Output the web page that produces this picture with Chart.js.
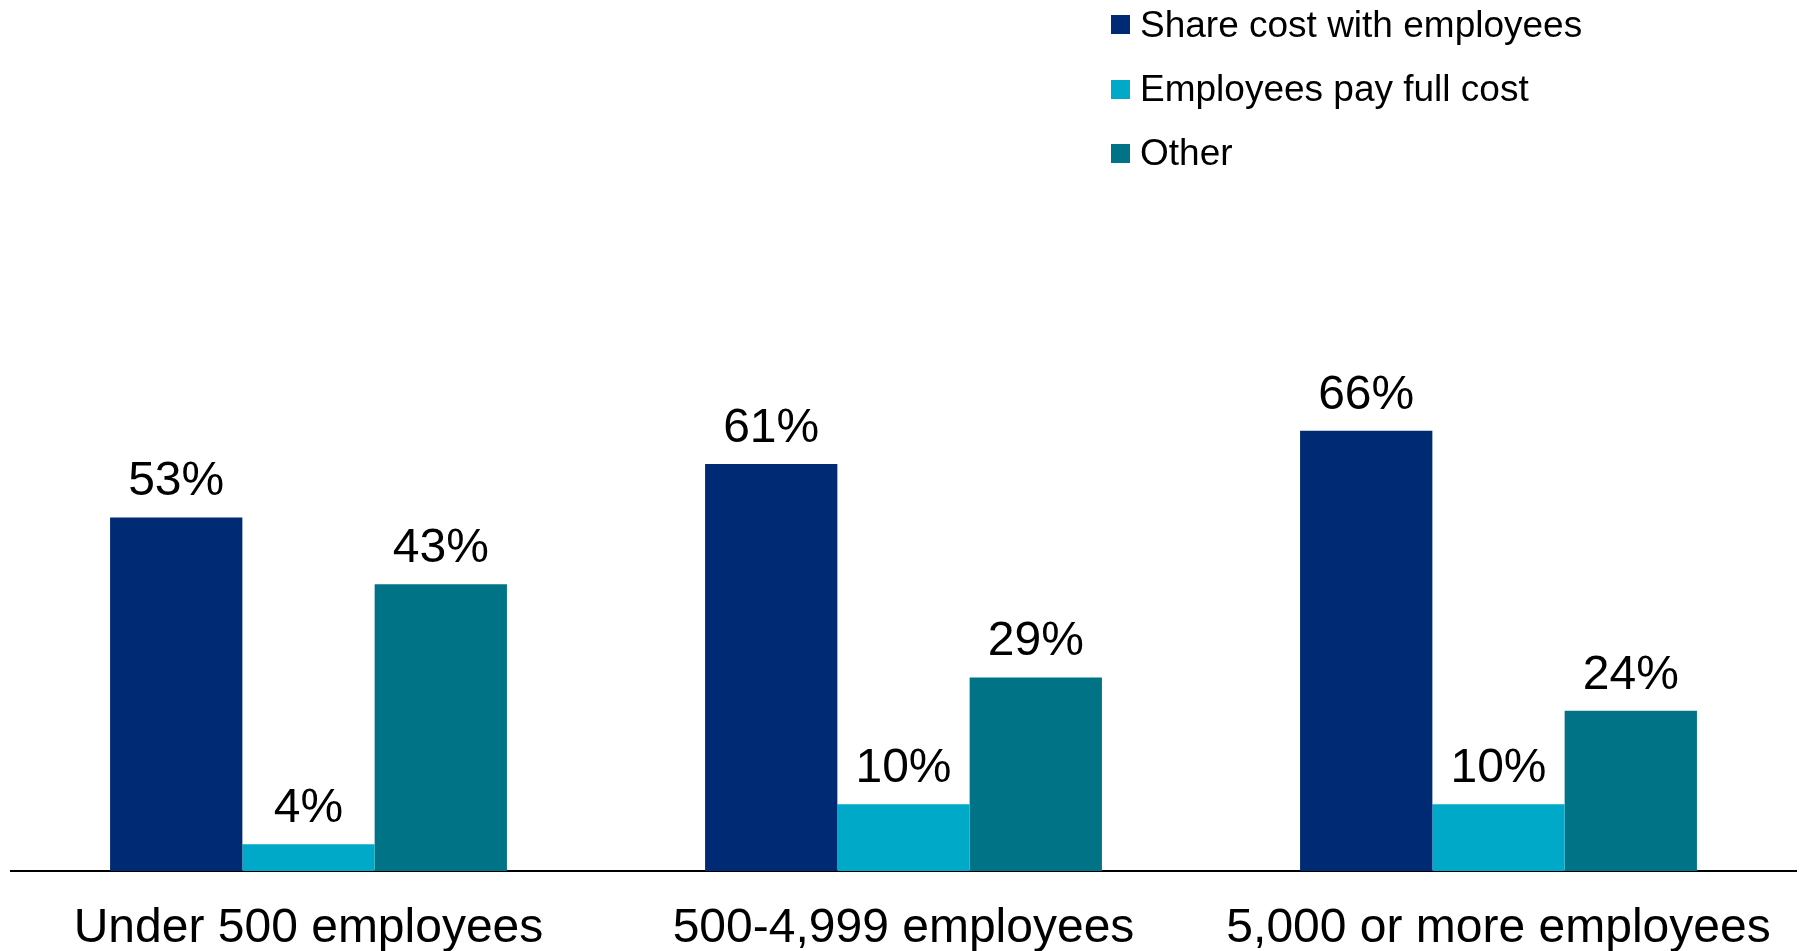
<!DOCTYPE html>
<html>
<head>
<meta charset="utf-8">
<script src="https://cdn.jsdelivr.net/npm/chart.js@4.4.1/dist/chart.umd.min.js"></script>
<style>
  html, body { margin: 0; padding: 0; background: #fff; overflow: hidden; }
  #wrap { position: relative; width: 1801px; height: 951px; }
  #legend {
    position: absolute; left: 1111px; top: -7.5px;
    font-family: "Liberation Sans", Arial, sans-serif; font-size: 37px; color: #000;
  }
  .item { display: flex; align-items: center; height: 64.4px; white-space: nowrap; }
  .swatch { width: 19px; height: 19px; margin-right: 10px; flex: none; }
</style>
</head>
<body>
<div id="wrap">
  <canvas id="costChart" width="1801" height="951"></canvas>
  <div id="legend"></div>
</div>
<script>
document.addEventListener("DOMContentLoaded", function () {
    const categories = ["Under 500 employees", "500-4,999 employees", "5,000 or more employees"];
    const seriesNames = ["Share cost with employees", "Employees pay full cost", "Other"];
    const shareCost = [53, 61, 66];
    const payFull = [4, 10, 10];
    const other = [43, 29, 24];
    const colors = ["#002b74", "#00a9c8", "#007387"];

    const fontFamily = '"Liberation Sans", Arial, sans-serif';

    const datasets = [shareCost, payFull, other].map((values, i) => ({
        label: seriesNames[i],
        data: values,
        backgroundColor: colors[i],
        borderWidth: 0,
        categoryPercentage: 0.667,
        barPercentage: 1.0
    }));

    // Percent labels above each bar
    const valueLabels = {
        id: "valueLabels",
        afterDatasetsDraw(chart) {
            const ctx = chart.ctx;
            ctx.save();
            ctx.font = "48px " + fontFamily;
            ctx.fillStyle = "#000";
            ctx.textAlign = "center";
            ctx.textBaseline = "alphabetic";
            chart.data.datasets.forEach((ds, i) => {
                chart.getDatasetMeta(i).data.forEach((bar, j) => {
                    ctx.fillText(ds.data[j] + "%", bar.x, bar.y - 22);
                });
            });
            ctx.restore();
        }
    };

    const ctx = document.getElementById("costChart").getContext("2d");
    const costChart = new Chart(ctx, {
        type: "bar",
        data: { labels: categories, datasets: datasets },
        options: {
            responsive: false,
            animation: false,
            layout: { padding: { top: 204, left: 11, right: 5, bottom: -35.5 } },
            plugins: {
                legend: { display: false },
                tooltip: { enabled: false }
            },
            scales: {
                x: {
                    grid: { display: false, drawTicks: false },
                    border: { display: true, color: "#000", width: 2 },
                    ticks: {
                        color: "#000",
                        padding: 29,
                        font: { family: fontFamily, size: 48 },
                        maxRotation: 0
                    }
                },
                y: {
                    display: false,
                    min: 0,
                    max: 100
                }
            }
        },
        plugins: [valueLabels]
    });

    // Legend built from the chart's datasets
    const legendDiv = document.getElementById("legend");
    costChart.data.datasets.forEach(ds => {
        const row = document.createElement("div");
        row.className = "item";
        const sw = document.createElement("span");
        sw.className = "swatch";
        sw.style.background = ds.backgroundColor;
        const txt = document.createElement("span");
        txt.textContent = ds.label;
        row.appendChild(sw);
        row.appendChild(txt);
        legendDiv.appendChild(row);
    });
});
</script>
</body>
</html>
